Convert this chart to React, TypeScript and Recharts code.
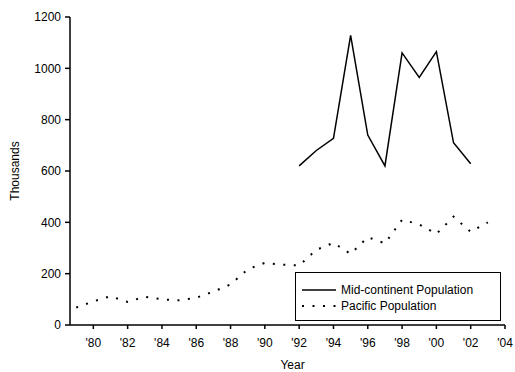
import React from 'react';
import { LineChart, Line, XAxis, YAxis, Legend } from 'recharts';

const years = [1979, 1980, 1981, 1982, 1983, 1984, 1985, 1986, 1987, 1988, 1989, 1990, 1991, 1992, 1993, 1994, 1995, 1996, 1997, 1998, 1999, 2000, 2001, 2002, 2003];
const pacific = [68, 92, 112, 90, 110, 100, 96, 106, 130, 158, 217, 242, 235, 232, 293, 320, 277, 342, 318, 410, 392, 355, 422, 363, 400];
const midContinent: (number | null)[] = [null, null, null, null, null, null, null, null, null, null, null, null, null, 620, 680, 727, 1128, 740, 620, 1060, 965, 1065, 710, 628, null];
const xTicks = [1980, 1982, 1984, 1986, 1988, 1990, 1992, 1994, 1996, 1998, 2000, 2002, 2004];
const yTicks = [0, 200, 400, 600, 800, 1000, 1200];
const seriesNames = ['Mid-continent Population', 'Pacific Population'];

const data = years.map((y, i) => ({ year: y, mid: midContinent[i], pac: pacific[i] }));

const FONT = '"Liberation Sans", Arial, sans-serif';
const PAC_DASH = '2 8.5';

const renderLegend = () => (
  <div
    style={{
      width: 206,
      height: 49,
      border: '1.5px solid #000',
      boxSizing: 'border-box',
      background: '#fff',
      fontFamily: FONT,
      fontSize: 12,
      color: '#000',
      position: 'relative',
    }}
  >
    {seriesNames.map((name, i) => (
      <div
        key={name}
        style={{ position: 'absolute', left: 6, top: 9 + i * 16, height: 16, display: 'flex', alignItems: 'center', whiteSpace: 'nowrap' }}
      >
        <svg width={34} height={16} style={{ display: 'block' }}>
          <line
            x1={0}
            y1={8}
            x2={34}
            y2={8}
            stroke="#000"
            strokeWidth={i === 0 ? 1.5 : 2}
            strokeDasharray={i === 0 ? undefined : PAC_DASH}
          />
        </svg>
        <span style={{ marginLeft: 5, lineHeight: '16px' }}>{name}</span>
      </div>
    ))}
  </div>
);

const yLabel = (props: any) => {
  const vb = props.viewBox || { x: 0, y: 17, width: 70, height: 308 };
  const cx = vb.x + 15;
  const cy = vb.y + vb.height / 2;
  return (
    <text x={cx} y={cy} transform={`rotate(-90 ${cx} ${cy})`} textAnchor="middle" dominantBaseline="central" fontFamily={FONT} fontSize={12} fill="#000">
      Thousands
    </text>
  );
};

const xLabel = (props: any) => {
  const vb = props.viewBox || { x: 70, y: 325, width: 435, height: 47 };
  const cx = vb.x + vb.width / 2 + 5;
  const cy = vb.y + 40;
  return (
    <text x={cx} y={cy} textAnchor="middle" dominantBaseline="central" fontFamily={FONT} fontSize={12} fill="#000">
      Year
    </text>
  );
};

export default function App() {
  return (
    <div style={{ position: 'absolute', left: 0, top: 0, width: 515, height: 372, background: '#fff' }}>
      <LineChart width={515} height={372} data={data} margin={{ top: 17, right: 10, bottom: 0, left: 0 }}>
        <XAxis
          dataKey="year"
          type="number"
          domain={[1978.64, 2004]}
          allowDataOverflow
          ticks={xTicks}
          interval={0}
          tickFormatter={(v: number) => "'" + String(v % 100).padStart(2, '0')}
          height={47}
          tickSize={4}
          tickMargin={9}
          axisLine={{ stroke: '#000', strokeWidth: 1.5 }}
          tickLine={{ stroke: '#000', strokeWidth: 1.5 }}
          tick={{ fill: '#000', fontSize: 12, fontFamily: FONT }}
          label={xLabel}
        />
        <YAxis
          type="number"
          domain={[0, 1200]}
          ticks={yTicks}
          interval={0}
          width={70}
          tickSize={5}
          tickMargin={4}
          axisLine={{ stroke: '#000', strokeWidth: 1.5 }}
          tickLine={{ stroke: '#000', strokeWidth: 1.5 }}
          tick={{ fill: '#000', fontSize: 12, fontFamily: FONT }}
          label={yLabel}
        />
        <Legend
          layout="vertical"
          align="center"
          verticalAlign="middle"
          content={renderLegend}
          wrapperStyle={{ position: 'absolute', left: 295, top: 272, width: 206, height: 49 }}
        />
        <Line
          dataKey="mid"
          name={seriesNames[0]}
          stroke="#000"
          strokeWidth={1.5}
          dot={false}
          activeDot={false}
          connectNulls={false}
          isAnimationActive={false}
        />
        <Line
          dataKey="pac"
          name={seriesNames[1]}
          stroke="#000"
          strokeWidth={2}
          strokeDasharray={PAC_DASH}
          dot={false}
          activeDot={false}
          isAnimationActive={false}
        />
      </LineChart>
    </div>
  );
}
